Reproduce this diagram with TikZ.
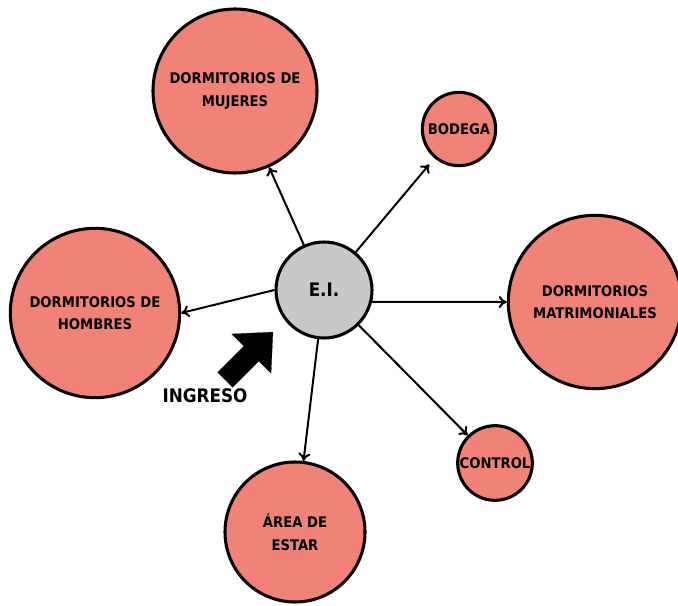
\documentclass[tikz,border=0pt]{standalone}
\usepackage{fontspec}
\setmainfont{DejaVu Sans Condensed}
\usepackage{tikz}
\usetikzlibrary{arrows.meta}

\definecolor{salmon}{RGB}{240,130,120}
\definecolor{gris}{RGB}{200,200,200}

\tikzset{
  cuarto/.style={circle,draw=black,line width=2.3pt,fill=salmon,inner sep=0pt,
    align=center,font=\bfseries\fontsize{11}{17}\selectfont},
  flecha/.style={line width=1.5pt,-{To[length=6pt,width=9pt]}},
}

\begin{document}
\begin{tikzpicture}[x=0.75pt,y=-0.75pt]
\useasboundingbox (0,0) rectangle (678,606);

% recintos
\node[cuarto,minimum size=123pt] (mujeres) at (235,91) {DORMITORIOS DE\\MUJERES};
\node[cuarto,minimum size=55pt] (bodega) at (459,129) {BODEGA};
\node[cuarto,minimum size=127pt] (hombres) at (95,313) {DORMITORIOS DE\\HOMBRES};
\node[cuarto,minimum size=130pt] (matrim) at (595,302) {DORMITORIOS\\MATRIMONIALES};
\node[cuarto,minimum size=56pt] (control) at (495,463) {CONTROL};
\node[cuarto,minimum size=105pt] (estar) at (295,532) {ÁREA DE\\ESTAR};

% espacio de ingreso al centro
\node[circle,draw=black,line width=2.3pt,fill=gris,minimum size=72pt,
  font=\bfseries\fontsize{14}{16}\selectfont] (ei) at (324,290) {E.I.};

\draw[flecha] (ei) -- (mujeres);
\draw[flecha,shorten >=6pt] (ei) -- (bodega);
\draw[flecha] (ei.west) -- (hombres.east);
\draw[flecha] (ei.-14) -- (matrim.west);
\draw[flecha] (ei) -- (control);
\draw[flecha] (ei) -- (estar);

% flecha de acceso
\coordinate (cola) at (225,380);
\coordinate (punta) at (273,332);
\draw[line width=16pt,-{Triangle[length=23pt,width=42pt,line width=0.1pt]}] (cola) -- (punta);
\node[font=\bfseries\fontsize{14}{16}\selectfont] (ingreso) at (205,396) {INGRESO};

\end{tikzpicture}
\end{document}
